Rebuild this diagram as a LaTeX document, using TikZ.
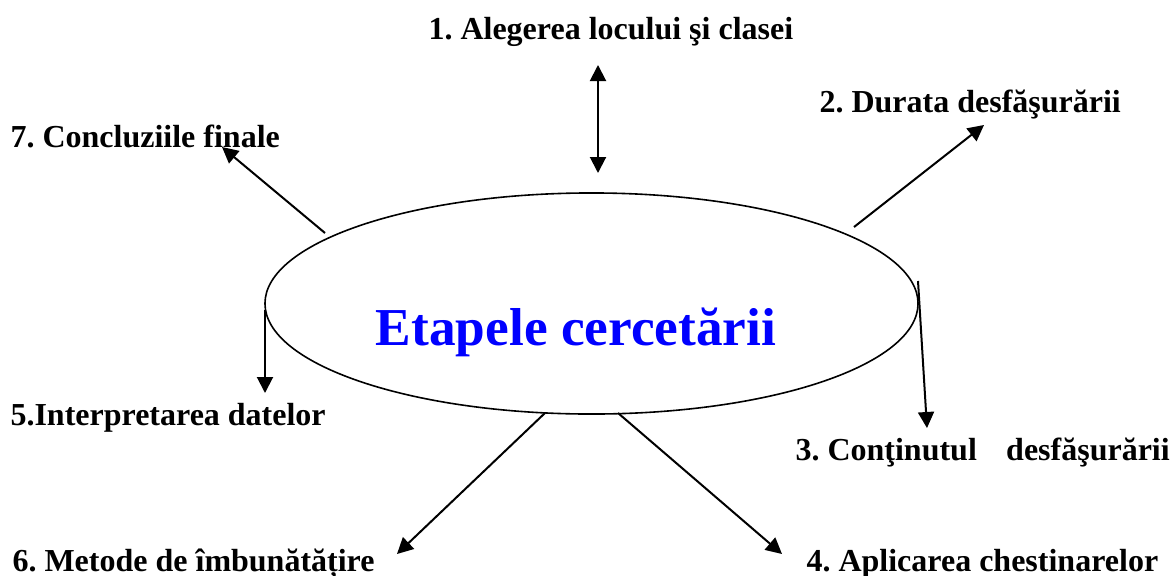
\documentclass[tikz,border=0pt]{standalone}
\usepackage{fontspec}
\setmainfont{Liberation Serif}
\usetikzlibrary{arrows.meta,shapes.geometric}
\frenchspacing
\begin{document}
\begin{tikzpicture}[x=0.375pt, y=-0.375pt, font=\fontsize{12}{14}\selectfont\bfseries, line join=round,
	eticheta/.style={anchor=base west, inner sep=0pt},
	sageata/.style={line width=0.75pt, -{Triangle[length=6pt,width=6pt]}}]
	\useasboundingbox (0,0) rectangle (1173,575);
	\node[draw, ellipse, line width=0.6pt, inner sep=0pt, minimum width=244.9pt, minimum height=82.9pt] (et) at (591.5,303.5) {};
	\node[anchor=base, text=blue, font=\fontsize{20}{24}\selectfont\bfseries] (titlu) at (576,345) {Etapele cercetării};
	\node[eticheta] (e1) at (428,39) {1. Alegerea locului şi clasei};
	\node[eticheta] (e2) at (819,112) {2. Durata desfăşurării};
	\node[eticheta] (e3) at (795,460) {3. Conţinutul\hspace{11pt}desfăşurării};
	\node[eticheta] (e4) at (806,571) {4. Aplicarea chestinarelor};
	\node[eticheta] (e5) at (10,425) {5.Interpretarea datelor};
	\node[eticheta] (e6) at (12,571) {6. Metode de îmbunătățire};
	\node[eticheta] (e7) at (10,147) {7. Concluziile finale};
	% capetele sagetilor
	\coordinate (s1) at (598,173); \coordinate (t1) at (598,65);
	\coordinate (s2) at (854,227); \coordinate (t2) at (984,125);
	\coordinate (s3) at (918,281); \coordinate (t3) at (927,428);
	\coordinate (s4) at (618,413); \coordinate (t4) at (782,554);
	\coordinate (s5) at (265,310); \coordinate (t5) at (265,393);
	\coordinate (s6) at (545,413); \coordinate (t6) at (397,554);
	\coordinate (s7) at (325,233); \coordinate (t7) at (222,147);
	\draw[sageata, {Triangle[length=6pt,width=6pt]}-{Triangle[length=6pt,width=6pt]}] (s1) -- (t1);
	\foreach \i in {2,...,7}
		\draw[sageata] (s\i) -- (t\i);
\end{tikzpicture}
\end{document}
